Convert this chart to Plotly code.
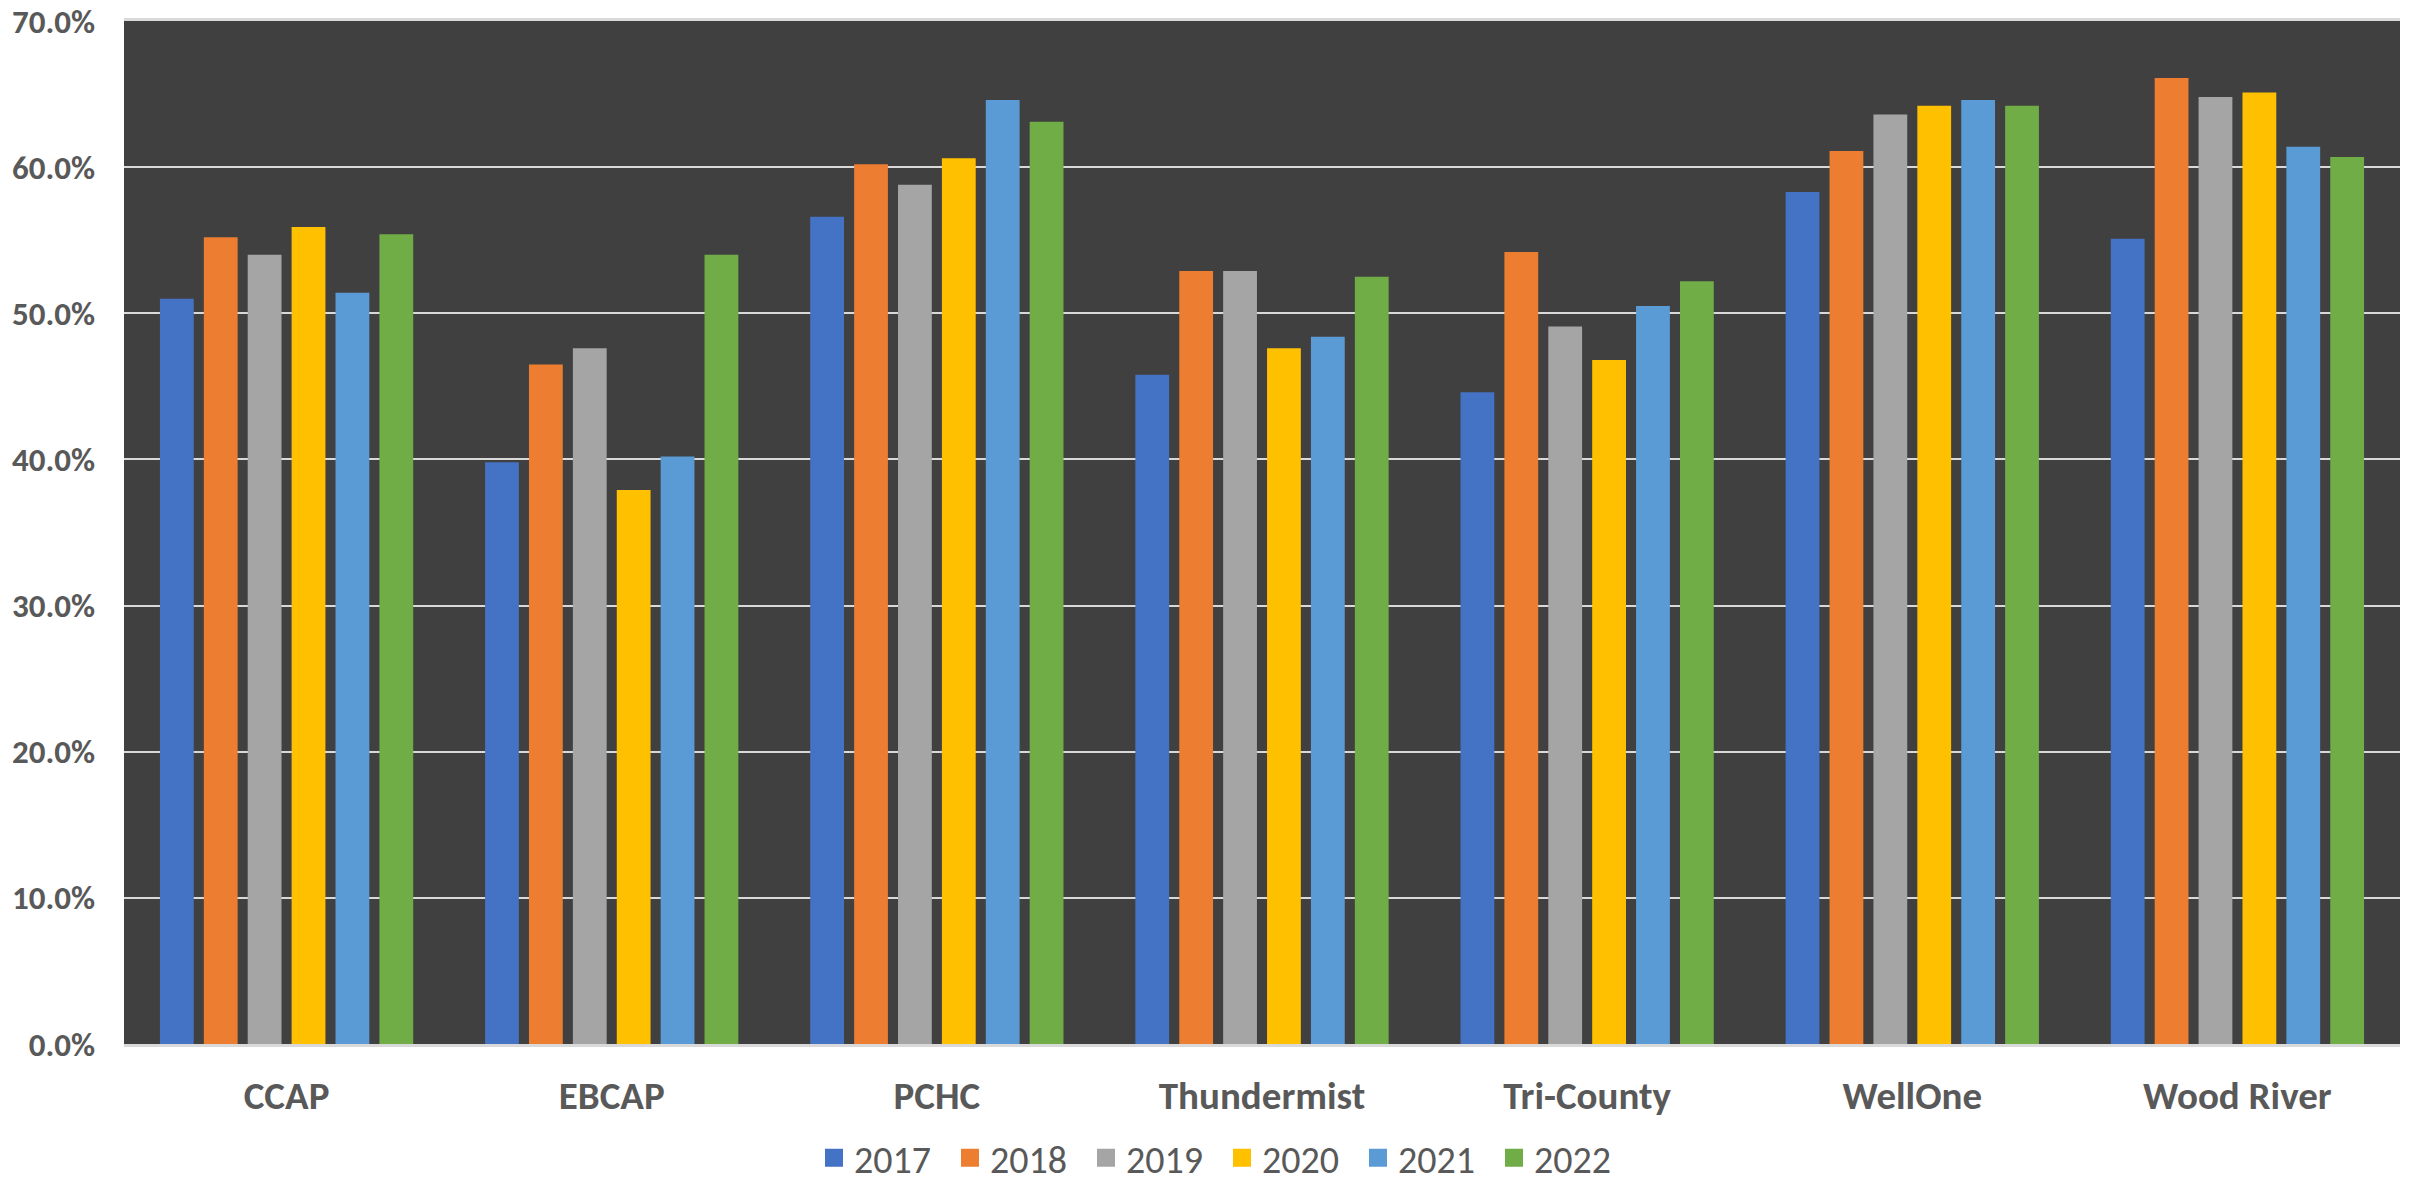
import plotly.graph_objects as go

categories = ["CCAP", "EBCAP", "PCHC", "Thundermist", "Tri-County", "WellOne", "Wood River"]
years = ["2017", "2018", "2019", "2020", "2021", "2022"]

v2017 = [0.510, 0.398, 0.566, 0.458, 0.446, 0.583, 0.551]
v2018 = [0.552, 0.465, 0.602, 0.529, 0.542, 0.611, 0.661]
v2019 = [0.540, 0.476, 0.588, 0.529, 0.491, 0.636, 0.648]
v2020 = [0.559, 0.379, 0.606, 0.476, 0.468, 0.642, 0.651]
v2021 = [0.514, 0.402, 0.646, 0.484, 0.505, 0.646, 0.614]
v2022 = [0.554, 0.540, 0.631, 0.525, 0.522, 0.642, 0.607]
series = [v2017, v2018, v2019, v2020, v2021, v2022]

colors = ["#4472C4", "#ED7D31", "#A5A5A5", "#FFC000", "#5B9BD5", "#70AD47"]

y_ticks = [0, 0.1, 0.2, 0.3, 0.4, 0.5, 0.6, 0.7]
y_ticktext = ["0.0%", "10.0%", "20.0%", "30.0%", "40.0%", "50.0%", "60.0%", "70.0%"]

FONT = "Carlito, 'Liberation Sans Narrow', 'Liberation Sans', sans-serif"
TXT = "#595959"

fig = go.Figure()
for yr, vals, c in zip(years, series, colors):
    fig.add_trace(go.Bar(name=yr, x=categories, y=vals, marker=dict(color=c, line=dict(width=0)),
                         showlegend=False))
# legend entries
for yr, c in zip(years, colors):
    fig.add_trace(go.Scatter(name=yr, x=[None], y=[None], mode="markers",
                             marker=dict(symbol="square", size=16, color=c, line=dict(color=c, width=2)),
                             showlegend=True))

fig.update_layout(
    width=2415, height=1184,
    margin=dict(l=124, r=15, t=21, b=140, autoexpand=False),
    paper_bgcolor="white",
    plot_bgcolor="#404040",
    barmode="group",
    bargap=0.19,
    bargroupgap=0.23,
    font=dict(family=FONT, color=TXT),
    legend=dict(orientation="h", xref="container", yref="container",
                x=0.506, xanchor="center", y=1 - 1158 / 1184, yanchor="middle",
                font=dict(size=38, family=FONT, color=TXT), itemsizing="trace",
                entrywidth=91, entrywidthmode="pixels",
                bgcolor="rgba(0,0,0,0)"),
    xaxis=dict(showgrid=False, showline=True, mirror=True, linecolor="#D9D9D9", linewidth=3,
               tickfont=dict(size=39, family=FONT, color=TXT, weight="bold"),
               ticks="", ticklabelstandoff=15, fixedrange=True),
    yaxis=dict(range=[0, 0.70], tickvals=y_ticks, ticktext=y_ticktext,
               showgrid=True, gridcolor="#D9D9D9", gridwidth=2, zeroline=False,
               showline=False,
               tickfont=dict(size=33, family=FONT, color=TXT, weight="bold"),
               ticks="", ticklabelstandoff=28, fixedrange=True),
)

fig.write_html("out.html")
